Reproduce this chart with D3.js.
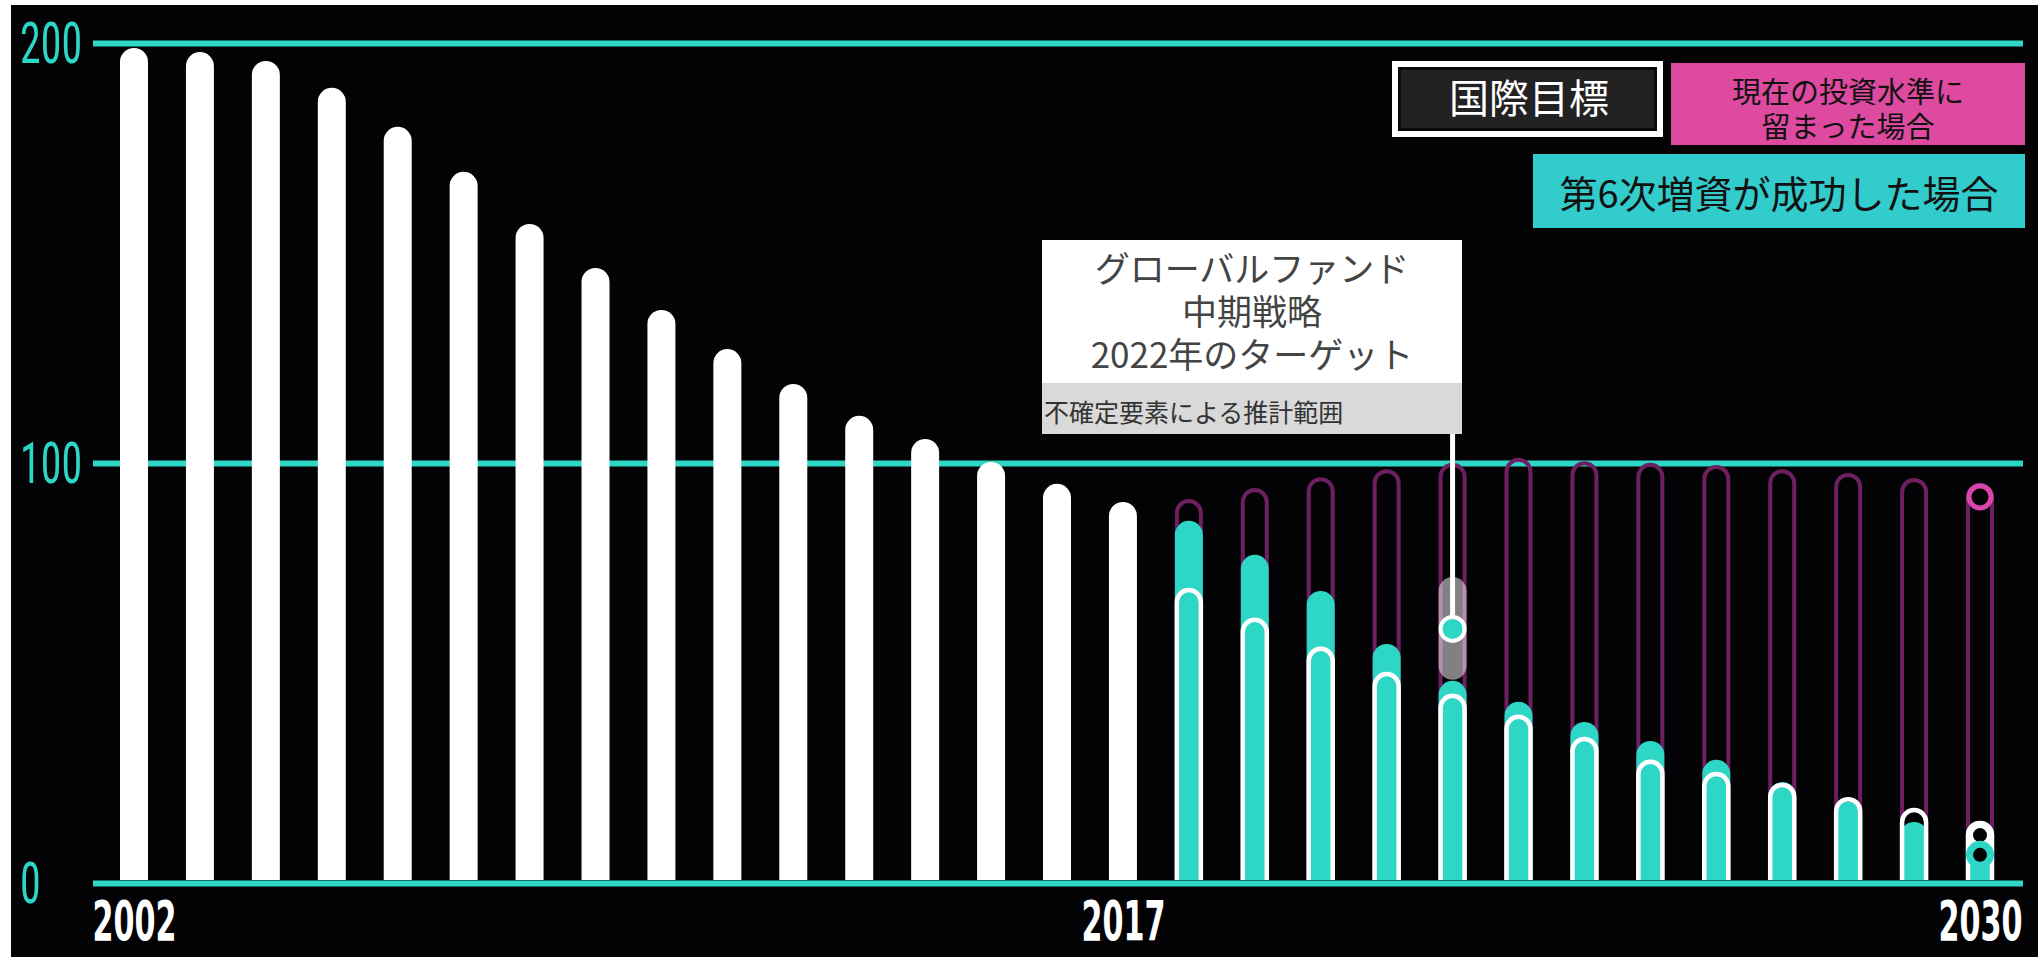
<!DOCTYPE html>
<html>
<head>
<meta charset="utf-8">
<script src="https://cdn.jsdelivr.net/npm/d3@7"></script>
<style>
  html, body { margin: 0; padding: 0; background: #fff; }
  svg { display: block; }
</style>
</head>
<body>
<svg id="Target" width="2038" height="957"></svg>
<script>
// values (deaths, arbitrary units of the chart)
const histYears = [2002, 2003, 2004, 2005, 2006, 2007, 2008, 2009, 2010, 2011, 2012, 2013, 2014, 2015, 2016, 2017];
const histValues = [195.5, 194.5, 192.4, 186.0, 176.7, 166.0, 153.6, 143.1, 133.1, 123.8, 115.5, 107.9, 102.4, 96.9, 91.7, 87.4];

const projYears = [2018, 2019, 2020, 2021, 2022, 2023, 2024, 2025, 2026, 2027, 2028, 2029, 2030];
const currentLevel = [88.1, 90.7, 93.3, 95.2, 96.7, 97.9, 97.1, 96.7, 96.2, 95.2, 94.3, 93.1, 91.9];
const replenished = [82.9, 74.8, 66.2, 53.6, 44.8, 39.8, 35.0, 30.5, 26.0, 20.7, 16.0, 11.2, 6.7];
const intlTarget = [66.9, 59.8, 52.9, 46.9, 41.7, 36.7, 31.4, 26.0, 23.1, 20.5, 17.1, 14.5, 11.4];

const midYear = 2022;
const midTarget = 60.5;
const midRange = [51.7, 69.5];

const yTicks = [0, 100, 200];
const xTicks = [2002, 2017, 2030];

const annotLines = ["グローバルファンド", "中期戦略", "2022年のターゲット"];
const annotNote = "不確定要素による推計範囲";
const legendTarget = "国際目標";
const legendCurrent = ["現在の投資水準に", "留まった場合"];
const legendReplen = "第6次増資が成功した場合";

const teal = "#2ed6c6";
const purple = "#6e1f5f";
const magenta = "#d944ae";
const jp = "'Noto Sans CJK JP', 'Noto Sans', sans-serif";

const svg = d3.select("#Target");

svg.append("rect")
    .attr("x", 11).attr("y", 5)
    .attr("width", 2027).attr("height", 952)
    .attr("fill", "#030306");

const years = histYears.concat(projYears);
const x = d3.scalePoint().domain(years).range([134, 1980]);
const y = d3.scaleLinear().domain([0, 200]).range([883, 43]);
const base = y(0) - 3;

// grid + y labels
svg.append("g")
    .attr("transform", "translate(93,0)")
    .call(d3.axisRight(y).tickValues(yTicks).tickSize(1930).tickFormat(d3.format("d")))
    .call(g => g.select(".domain").remove())
    .call(g => g.selectAll("line").attr("stroke", teal).attr("stroke-width", 6))
    .call(g => g.selectAll("text")
        .attr("x", -73).attr("y", 19).attr("dy", null)
        .attr("text-anchor", "start")
        .attr("fill", teal)
        .attr("font-family", "'Roboto Condensed', Roboto, sans-serif")
        .attr("font-size", 57)
        .attr("textLength", d => String(d).length * 20.7)
        .attr("lengthAdjust", "spacingAndGlyphs"));

// x labels
svg.append("g")
    .attr("transform", `translate(0,${y(0)})`)
    .call(d3.axisBottom(x).tickValues(xTicks).tickSize(0))
    .call(g => g.select(".domain").remove())
    .call(g => g.selectAll("text")
        .attr("y", 57).attr("dy", null)
        .attr("fill", "#fff")
        .attr("font-family", "'DejaVu Sans Condensed', 'DejaVu Sans', sans-serif")
        .attr("font-weight", "bold")
        .attr("font-size", 55)
        .attr("textLength", 84)
        .attr("lengthAdjust", "spacingAndGlyphs"));

// capsule with flat bottom and round top; the value sits at the arc centre
const capsule = (cx, yTop, r, closed) => {
    const p = d3.path();
    p.moveTo(cx - r, base);
    p.lineTo(cx - r, yTop);
    p.arc(cx, yTop, r, Math.PI, 2 * Math.PI);
    p.lineTo(cx + r, base);
    if (closed) p.closePath();
    return p.toString();
};

svg.append("g").selectAll("path")
    .data(histYears)
    .join("path")
    .attr("d", (d, i) => capsule(x(d), y(histValues[i]), 14, true))
    .attr("fill", "#fff");

const proj = projYears.map((yr, i) => ({
    year: yr, cur: currentLevel[i], rep: replenished[i], tgt: intlTarget[i]
}));

svg.append("g").selectAll("path")
    .data(proj)
    .join("path")
    .attr("d", d => capsule(x(d.year), y(d.cur), 12, false))
    .attr("fill", "none")
    .attr("stroke", purple)
    .attr("stroke-width", 4);

svg.append("g").selectAll("path")
    .data(proj)
    .join("path")
    .attr("d", d => capsule(x(d.year), y(d.rep), 14, true))
    .attr("fill", teal);

svg.append("g").selectAll("path")
    .data(proj)
    .join("path")
    .attr("d", d => capsule(x(d.year), y(d.tgt), 12, false))
    .attr("fill", "none")
    .attr("stroke", "#fff")
    .attr("stroke-width", 4.5);

// end markers for the last year
const last = proj[proj.length - 1];
const ends = svg.append("g");
ends.append("circle")
    .attr("cx", x(last.year)).attr("cy", y(last.tgt)).attr("r", 14).attr("fill", "#fff");
ends.append("circle")
    .attr("cx", x(last.year)).attr("cy", y(last.tgt)).attr("r", 7).attr("fill", "#030306");
ends.append("circle")
    .attr("cx", x(last.year)).attr("cy", y(last.rep)).attr("r", 14).attr("fill", teal);
ends.append("circle")
    .attr("cx", x(last.year)).attr("cy", y(last.rep)).attr("r", 7).attr("fill", "#030306");
ends.append("circle")
    .attr("cx", x(last.year)).attr("cy", y(last.cur)).attr("r", 11)
    .attr("fill", "#030306").attr("stroke", magenta).attr("stroke-width", 5);

// 2022 mid-term target with its range
const mx = x(midYear);
svg.append("line")
    .attr("x1", mx).attr("x2", mx)
    .attr("y1", y(midRange[1])).attr("y2", y(midRange[0]))
    .attr("stroke", "#fff").attr("stroke-opacity", 0.5)
    .attr("stroke-width", 28).attr("stroke-linecap", "round");

svg.append("line")
    .attr("x1", mx).attr("x2", mx)
    .attr("y1", 434).attr("y2", y(midTarget) - 13)
    .attr("stroke", "#fff").attr("stroke-width", 5);

svg.append("circle")
    .attr("cx", mx).attr("cy", y(midTarget)).attr("r", 12)
    .attr("fill", teal).attr("stroke", "#fff").attr("stroke-width", 4);

// annotation box
const annot = svg.append("g");
annot.append("rect").attr("x", 1042).attr("y", 240).attr("width", 420).attr("height", 143).attr("fill", "#fff");
annot.append("rect").attr("x", 1042).attr("y", 383).attr("width", 420).attr("height", 51).attr("fill", "#d9d9d9");
annot.selectAll("text.l")
    .data(annotLines)
    .join("text")
    .attr("class", "l")
    .attr("x", 1252)
    .attr("y", (d, i) => 266 + i * 43)
    .attr("text-anchor", "middle")
    .attr("dominant-baseline", "central")
    .attr("font-family", jp)
    .attr("font-size", 35)
    .attr("fill", "#444")
    .text(d => d);
annot.append("text")
    .attr("x", 1044).attr("y", 411)
    .attr("dominant-baseline", "central")
    .attr("font-family", jp).attr("font-size", 25)
    .attr("fill", "#333")
    .text(annotNote);

// legend
const leg = svg.append("g");
leg.append("rect").attr("x", 1395).attr("y", 64).attr("width", 265).attr("height", 70)
    .attr("fill", "#222").attr("stroke", "#fff").attr("stroke-width", 6);
leg.append("rect").attr("x", 1399.5).attr("y", 68.5).attr("width", 256).attr("height", 61)
    .attr("fill", "none").attr("stroke", "#0a0a0a").attr("stroke-width", 3);
leg.append("text")
    .attr("x", 1529).attr("y", 96)
    .attr("text-anchor", "middle").attr("dominant-baseline", "central")
    .attr("font-family", jp).attr("font-size", 40).attr("fill", "#fff")
    .text(legendTarget);

leg.append("rect").attr("x", 1671).attr("y", 63).attr("width", 354).attr("height", 82).attr("fill", "#dd4aa0");
leg.selectAll("text.c")
    .data(legendCurrent)
    .join("text")
    .attr("class", "c")
    .attr("x", 1848)
    .attr("y", (d, i) => 90 + i * 35)
    .attr("text-anchor", "middle").attr("dominant-baseline", "central")
    .attr("font-family", jp).attr("font-size", 29).attr("fill", "#111")
    .text(d => d);

leg.append("rect").attr("x", 1533).attr("y", 154).attr("width", 492).attr("height", 74).attr("fill", "#33cccc");
leg.append("text")
    .attr("x", 1779).attr("y", 191)
    .attr("text-anchor", "middle").attr("dominant-baseline", "central")
    .attr("font-family", jp).attr("font-size", 38).attr("fill", "#111")
    .text(legendReplen);
</script>
</body>
</html>
